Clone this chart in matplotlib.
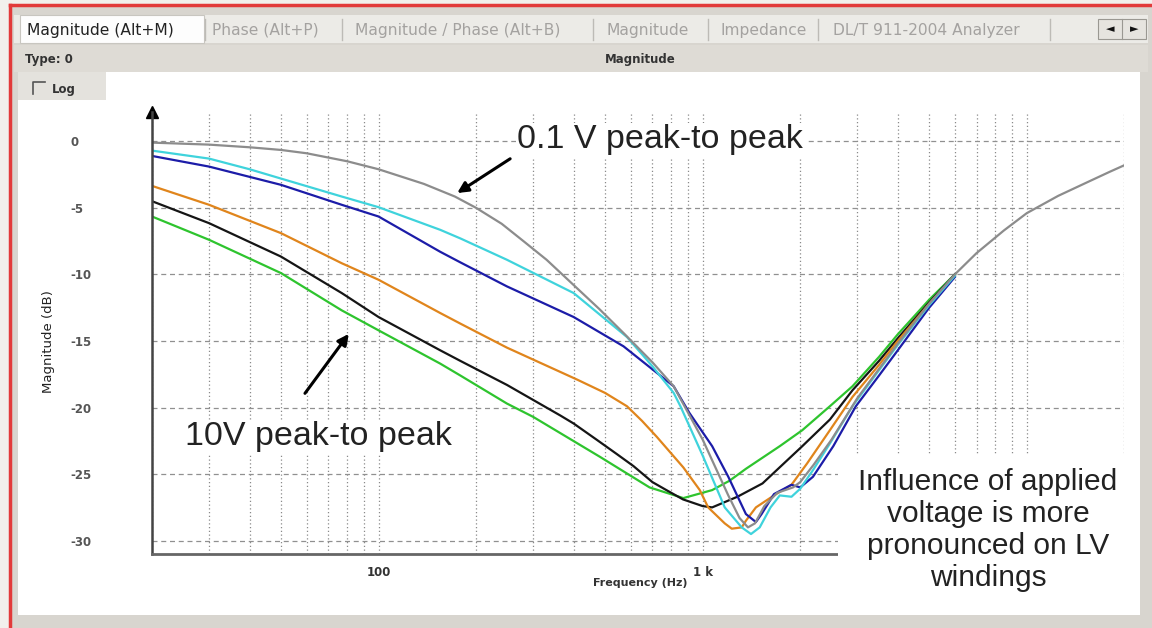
import matplotlib.pyplot as plt
from matplotlib.patches import Rectangle
from matplotlib.ticker import LogLocator, NullFormatter

# sweep response curves, frequency in Hz and magnitude in dB
f_01v = [20, 30, 40, 50, 60, 80, 100, 138, 172, 200, 240, 280, 330, 400, 480, 570, 700,
         814, 1000, 1100, 1200, 1300, 1380, 1450, 1550, 1700, 1900, 2000, 2200, 2500,
         3000, 3500, 4000, 5000, 6000, 7000, 8500, 10000, 12500, 15300, 18000, 20000]
db_01v = [-0.1, -0.25, -0.45, -0.65, -0.9, -1.5, -2.1, -3.2, -4.15, -5.0, -6.2, -7.5,
          -8.9, -10.8, -12.6, -14.4, -16.6, -18.4, -22.4, -24.6, -26.6, -28.3, -29.0,
          -28.7, -27.4, -26.4, -26.0, -25.6, -24.3, -22.4, -19.3, -17.1, -15.2, -12.2,
          -10.0, -8.4, -6.7, -5.4, -4.1, -3.1, -2.3, -1.8]

f_cyan = [20, 30, 40, 50, 77, 100, 155, 179, 249, 400, 584, 700, 814, 854, 1000, 1170,
          1320, 1410, 1500, 1620, 1730, 1880, 2000, 2190, 2470, 2900, 3500, 4000, 5000, 6000]
db_cyan = [-0.7, -1.3, -2.1, -2.8, -4.15, -4.95, -6.65, -7.3, -8.9, -11.4, -14.7, -16.9,
           -18.9, -19.9, -23.6, -27.5, -29.0, -29.5, -29.0, -27.5, -26.6, -26.7, -26.1,
           -24.7, -22.7, -19.9, -17.2, -15.3, -12.3, -10.1]

f_blue = [20, 30, 50, 77, 100, 155, 179, 249, 400, 570, 814, 910, 1070, 1200, 1360,
          1460, 1520, 1660, 1880, 2000, 2190, 2530, 2970, 3500, 4000, 5000, 6000]
db_blue = [-1.1, -1.9, -3.27, -4.77, -5.65, -8.3, -9.1, -10.9, -13.2, -15.4, -18.4,
           -20.4, -22.9, -25.2, -28.0, -28.6, -28.0, -26.5, -25.8, -26.0, -25.2, -22.9,
           -19.9, -17.6, -15.7, -12.5, -10.2]

f_orange = [20, 30, 50, 77, 100, 155, 179, 249, 410, 500, 584, 650, 722, 872, 980, 1040,
            1170, 1230, 1320, 1360, 1460, 1660, 1880, 2100, 2470, 2900, 3500, 4000, 5000,
            6000]
db_orange = [-3.35, -4.77, -6.9, -9.16, -10.4, -12.9, -13.7, -15.5, -17.9, -18.9, -19.9,
             -21.0, -22.2, -24.5, -26.2, -27.5, -28.7, -29.1, -29.0, -28.5, -27.5, -26.6,
             -25.8, -24.2, -21.7, -19.2, -16.8, -15.0, -12.2, -10.1]

f_black = [20, 30, 50, 77, 100, 155, 179, 249, 364, 400, 470, 544, 612, 700, 773, 870,
           1000, 1070, 1280, 1530, 2030, 2470, 2900, 3500, 4000, 5000, 6000]
db_black = [-4.5, -6.15, -8.66, -11.4, -13.2, -15.7, -16.5, -18.3, -20.6, -21.2, -22.4,
            -23.5, -24.4, -25.6, -26.2, -26.9, -27.4, -27.5, -26.7, -25.7, -22.9, -20.9,
            -18.7, -16.5, -14.8, -12.1, -10.0]

f_10v = [20, 30, 50, 77, 100, 155, 179, 249, 300, 482, 686, 872, 1070, 1210, 1360, 1730,
         2030, 2470, 2900, 3500, 4000, 5000, 6000]
db_10v = [-5.65, -7.4, -9.9, -12.7, -14.2, -16.7, -17.6, -19.7, -20.7, -23.7, -26.0, -26.8,
          -26.2, -25.5, -24.6, -22.9, -21.7, -19.9, -18.4, -16.2, -14.5, -11.9, -10.0]

y_ticks = [0, -5, -10, -15, -20, -25, -30]
y_labels = ['0', '-5', '-10', '-15', '-20', '-25', '-30']
x_ticks = [100, 1000, 10000]
x_labels = ['100', '1 k', '']
tabs = ['Phase (Alt+P)', 'Magnitude / Phase (Alt+B)', 'Magnitude', 'Impedance',
        'DL/T 911-2004 Analyzer']
tab_x = [212, 355, 607, 720, 833]
tab_sep = [205, 342, 593, 708, 818, 1050]

W, H = 1152, 628
fig = plt.figure(figsize=(W / 100, H / 100), dpi=100, facecolor='#f2f0ec')

# window chrome drawn in pixel coordinates
bg = fig.add_axes([0, 0, 1, 1], zorder=-1)
bg.set_xlim(0, W)
bg.set_ylim(H, 0)
bg.axis('off')
bg.add_patch(Rectangle((10, 6), W, H, facecolor='#d8d5cf', edgecolor='none'))
bg.plot([9.5, 9.5], [5, H], color='#e23a3a', lw=2.5)
bg.plot([9.5, W], [5, 5], color='#e23a3a', lw=2.5)
bg.add_patch(Rectangle((14, 15), 1134, 28, facecolor='#ecebe7', edgecolor='none'))
bg.add_patch(Rectangle((20, 15), 184, 28, facecolor='#fdfdfd', edgecolor='#c8c6c0', lw=0.8))
bg.text(27, 30, 'Magnitude (Alt+M)', fontsize=11.2, color='#222222', va='center')
for t, x in zip(tabs, tab_x):
    bg.text(x, 30, t, fontsize=11.2, color='#a4a2a0', va='center')
for x in tab_sep:
    bg.plot([x, x], [19, 40], color='#bdbbb6', lw=1)
bg.add_patch(Rectangle((1098, 19), 48, 20, facecolor='#e6e4df', edgecolor='#9a9892', lw=0.8))
bg.plot([1122, 1122], [19, 39], color='#9a9892', lw=0.8)
bg.text(1110, 29, '\u25c4', fontsize=8, color='#111111', ha='center', va='center')
bg.text(1134, 29, '\u25ba', fontsize=8, color='#111111', ha='center', va='center')
bg.add_patch(Rectangle((14, 45), 1134, 27, facecolor='#dedbd5', edgecolor='none'))
bg.text(25, 59, 'Type: 0', fontsize=8.5, fontweight='bold', color='#333333', va='center')
bg.text(640, 60, 'Magnitude', fontsize=8.5, fontweight='bold', color='#333333',
        ha='center', va='center')
bg.add_patch(Rectangle((18, 72), 1122, 543, facecolor='white', edgecolor='none'))
bg.add_patch(Rectangle((18, 72), 88, 28, facecolor='#e4e2dd', edgecolor='none'))
bg.plot([33, 33, 45], [94, 82, 82], color='#555555', lw=1.2)
bg.text(52, 89, 'Log', fontsize=8.5, fontweight='bold', color='#333333', va='center')

# magnitude plot
ax = fig.add_axes([152 / W, (H - 554) / H, (1124.3 - 152) / W, (554 - 112) / H])
ax.set_facecolor('none')
ax.set_xscale('log')
ax.set_xlim(20, 20000)
ax.set_ylim(-31, 2.2)

ax.plot(f_10v, db_10v, color='#2ec42e', lw=1.6)
ax.plot(f_black, db_black, color='#151515', lw=1.6)
ax.plot(f_orange, db_orange, color='#e0851c', lw=1.6)
ax.plot(f_blue, db_blue, color='#1c1ca8', lw=1.6)
ax.plot(f_cyan, db_cyan, color='#3fd3dc', lw=1.6)
ax.plot(f_01v, db_01v, color='#8c8c8c', lw=1.6)

ax.set_xticks(x_ticks)
ax.set_xticklabels(x_labels)
ax.xaxis.set_minor_locator(LogLocator(base=10, subs=range(2, 10)))
ax.xaxis.set_minor_formatter(NullFormatter())
ax.set_yticks(y_ticks)
ax.set_yticklabels(y_labels)
ax.tick_params(which='both', length=0)
ax.tick_params(axis='x', pad=9, labelsize=8.5, labelcolor='#333333')
ax.tick_params(axis='y', pad=59, labelsize=8.5, labelcolor='#555555')
for lab in ax.get_yticklabels():
    lab.set_horizontalalignment('left')
    lab.set_fontweight('bold')
for lab in ax.get_xticklabels():
    lab.set_fontweight('bold')

ax.grid(True, which='both', axis='x', linestyle=(0, (1, 2)), color='#8a8a8a', lw=0.9)
ax.grid(True, which='major', axis='y', linestyle=(0, (4, 3)), color='#909090', lw=0.9)
ax.set_axisbelow(True)

for side in ['top', 'right']:
    ax.spines[side].set_visible(False)
ax.spines['left'].set_color('#444444')
ax.spines['left'].set_linewidth(1.8)
ax.spines['bottom'].set_color('#666666')
ax.spines['bottom'].set_linewidth(2)
ax.plot([0], [1.0], marker='^', markersize=9, color='black', transform=ax.transAxes,
        clip_on=False)

ax.set_ylabel('Magnitude (dB)', fontsize=9.5, color='#222222', labelpad=14)
ax.yaxis.set_label_coords(-0.1, 0.48)
fig.text(640 / W, 1 - 583 / H, 'Frequency (Hz)', fontsize=8, fontweight='bold',
         color='#333333', ha='center', va='center')

white_box = dict(facecolor='white', edgecolor='none', pad=1)
ax.text(268, 0.1, '0.1 V peak-to peak', fontsize=24.5, family='Liberation Sans',
        color='#222222', ha='left', va='center', bbox=white_box)
ax.text(25.3, -22.2, '10V peak-to peak', fontsize=24.5, family='Liberation Sans',
        color='#222222', ha='left', va='center', bbox=white_box)
ax.annotate('', xy=(172, -4.0), xytext=(259, -1.2),
            arrowprops=dict(arrowstyle='-|>', color='black', lw=2.2, mutation_scale=16))
ax.annotate('', xy=(81.9, -14.3), xytext=(58.6, -19.1),
            arrowprops=dict(arrowstyle='-|>', color='black', lw=2.2, mutation_scale=16))

fig.add_artist(Rectangle((838 / W, 1 - 600 / H), 302 / W, 145 / H, facecolor='white',
                         edgecolor='none', transform=fig.transFigure, zorder=5))
fig.text(988 / W, 1 - 530 / H,
         'Influence of applied\nvoltage is more\npronounced on LV\nwindings',
         fontsize=21.5, family='Liberation Sans', color='#222222', ha='center',
         va='center', linespacing=1.17, zorder=6)

fig.savefig('out.png', dpi=100, facecolor=fig.get_facecolor())
